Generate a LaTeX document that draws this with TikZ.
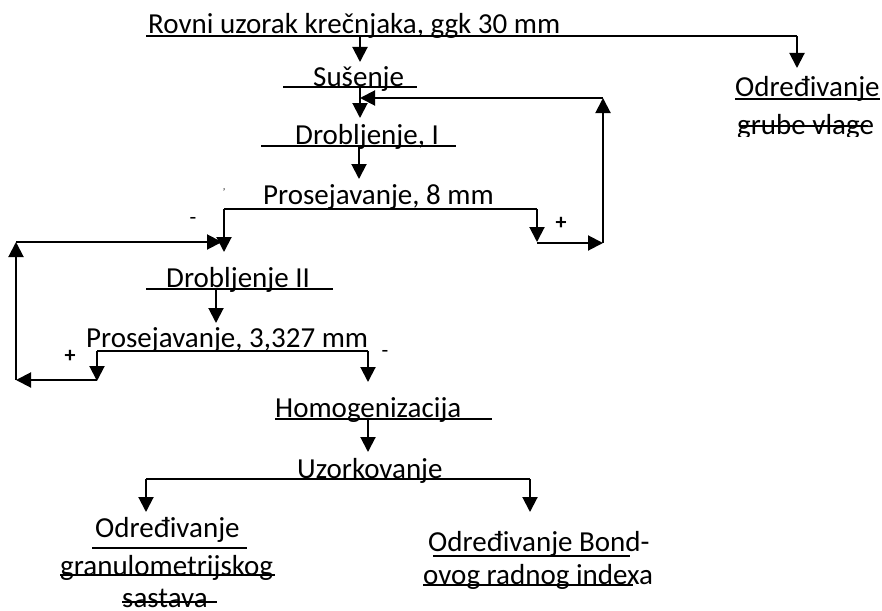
\documentclass[tikz,border=0pt]{standalone}
\usepackage{fontspec}
\setmainfont{Carlito}
\usetikzlibrary{arrows.meta}

\begin{document}
\begin{tikzpicture}[x=1pt, y=-1pt, >={Triangle[width=15pt,length=15pt]},
  lbl/.style={inner sep=0pt, anchor=base west, font=\fontsize{29}{34}\selectfont},
  sgn/.style={inner sep=0pt, font=\fontsize{22}{26}\selectfont},
  bar/.style={line width=1.4pt},
  flow/.style={->, line width=2pt}]
% page size, in pixels of the reference (y grows downwards)
\useasboundingbox (0,0) rectangle (882,610);

% texts, placed on their baselines
\node[lbl] (rovni)  at (148,34)  {Rovni uzorak kre\v{c}njaka, ggk 30 mm};
\node[lbl] (susenje) at (313,86) {Su\v{s}enje};
\node[lbl] (drob1)  at (295,144) {Drobljenje, I};
\node[lbl] (pros8)  at (263,204) {Prosejavanje, 8 mm};
\node[lbl] (drob2)  at (166,287) {Drobljenje II};
\node[lbl] (pros3)  at (86,347)  {Prosejavanje, 3,327 mm};
\node[lbl] (homog)  at (275,417) {Homogenizacija};
\node[lbl] (uzork)  at (297,478) {Uzorkovanje};
\node[lbl] (vlage1) at (735,96)  {Određivanje};
% second line is cut off at its descenders
\begin{scope}
  \clip (700,0) rectangle (882,136);
  \node[lbl] (vlage2) at (737,134) {grube vlage};
\end{scope}
\node[lbl] (gran1)  at (95,537)  {Određivanje};
\node[lbl] (gran2)  at (60,575)  {granulometrijskog};
\node[lbl] (gran3)  at (122,607) {sastava};
\node[lbl] (bond1)  at (428,551) {Određivanje Bond-};
\node[lbl] (bond2)  at (423,584) {ovog radnog indexa};

% signs of the screen products
\node[sgn] (minus8)  at (193,221) {-};
\node[sgn, font=\fontsize{22}{26}\selectfont\bfseries] (plus8) at (561,223) {+};
\node[sgn, font=\fontsize{22}{26}\selectfont\bfseries] (plus3) at (70,356) {+};
\node[sgn] (minus3)  at (385,354) {-};
\node[inner sep=0pt, font=\fontsize{10}{12}\selectfont] (tick) at (224,192) {'};

% reference points of the lines
\coordinate (top left)    at (146,36);
\coordinate (top right)   at (797,36);
\coordinate (vlaga)       at (797,68);
\coordinate (top mid)     at (360,36);
\coordinate (sus in)      at (360,62);
\coordinate (sus left)    at (283,87);
\coordinate (sus right)   at (417,87);
\coordinate (sus mid)     at (360,87);
\coordinate (d1 in)       at (360,118);
\coordinate (return top)  at (603,98);
\coordinate (return end)  at (360,98);
\coordinate (d1 left)     at (261,146);
\coordinate (d1 right)    at (456,146);
\coordinate (d1 mid)      at (359,146);
\coordinate (p8 in)       at (359,179);
\coordinate (p8 left)     at (224,209);
\coordinate (p8 right)    at (537,209);
\coordinate (p8 under)    at (224,252);
\coordinate (p8 plus)     at (537,242);
\coordinate (return low)  at (603,243);
\coordinate (loop top)    at (16,242);
\coordinate (loop end)    at (222,242);
\coordinate (loop low)    at (16,380);
\coordinate (d2 left)     at (146,289);
\coordinate (d2 right)    at (333,289);
\coordinate (d2 mid)      at (216,289);
\coordinate (p3 in)       at (216,323);
\coordinate (p3 left)     at (97,351);
\coordinate (p3 right)    at (368,351);
\coordinate (p3 plus)     at (97,381);
\coordinate (p3 minus)    at (368,382);
\coordinate (h left)      at (275,419);
\coordinate (h right)     at (492,419);
\coordinate (h mid)       at (368,419);
\coordinate (u in)        at (368,452);
\coordinate (u left)      at (146,479);
\coordinate (u right)     at (530,479);
\coordinate (gran in)     at (146,512);
\coordinate (bond in)     at (530,512);

% lines under and through the texts
\draw[bar] (top left) -- (top right);
\draw[bar] (sus left) -- (sus right);
\draw[bar] (d1 left) -- (d1 right);
\draw[bar] (p8 left) -- (p8 right);
\draw[bar] (d2 left) -- (d2 right);
\draw[bar] (p3 left) -- (p3 right);
\draw[bar] (h left) -- (h right);
\draw[bar] (u left) -- (u right);
\draw[bar] (735,99) -- (880,99);
\draw[bar] (740,126) -- (868,126);
\draw[bar] (92,548) -- (247,548);
\draw[bar] (60,575) -- (275,575);
\draw[bar] (122,602) -- (217,602);
\draw[bar] (433,556) -- (630,556);
\draw[bar] (423,585) -- (633,585);

% main flow
\draw[flow] (top right) -- (vlaga);
\draw[flow] (top mid) -- (sus in);
\draw[flow] (sus mid) -- (d1 in);
\draw[flow] (d1 mid) -- (p8 in);
\draw[flow] (p8 left) -- (p8 under);
\draw[flow] (p8 right) -- (p8 plus);
\draw[flow] (d2 mid) -- (p3 in);
\draw[flow] (p3 left) -- (p3 plus);
\draw[flow] (p3 right) -- (p3 minus);
\draw[flow] (h mid) -- (u in);
\draw[flow] (u left) -- (gran in);
\draw[flow] (u right) -- (bond in);

% oversize back to crushing
\draw[flow] (p8 plus |- return low) -- (return low);
\draw[flow] (return low) -- (return top);
\draw[flow] (return top) -- (return end);
\draw[flow] (p3 plus |- loop low) -- (loop low);
\draw[flow] (loop low) -- (loop top);
\draw[flow] (loop top) -- (loop end);

\end{tikzpicture}
\end{document}
